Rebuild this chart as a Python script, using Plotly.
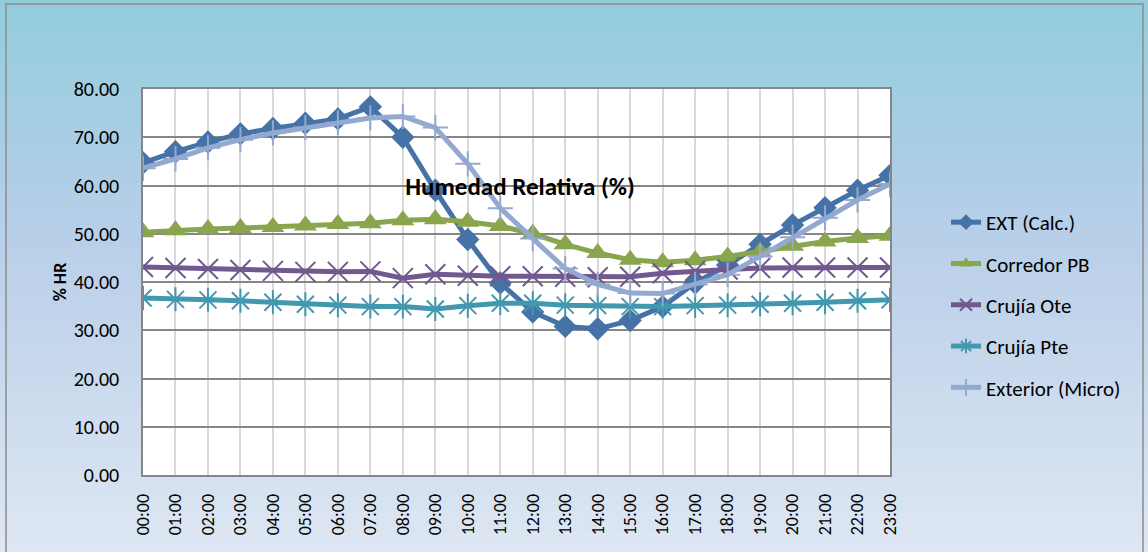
import plotly.graph_objects as go

hours = ["00:00","01:00","02:00","03:00","04:00","05:00","06:00","07:00","08:00","09:00","10:00","11:00",
         "12:00","13:00","14:00","15:00","16:00","17:00","18:00","19:00","20:00","21:00","22:00","23:00"]

ext_calc = [64.7, 67.0, 69.0, 70.7, 71.8, 72.9, 73.8, 76.3, 70.0, 59.0, 48.8, 39.8,
            33.8, 30.8, 30.3, 32.0, 34.9, 39.8, 43.5, 47.8, 51.8, 55.4, 59.0, 62.1]
corredor_pb = [50.3, 50.7, 51.0, 51.2, 51.4, 51.7, 52.0, 52.2, 52.8, 53.0, 52.5, 51.6,
               50.0, 47.8, 46.0, 44.6, 44.1, 44.5, 45.3, 46.3, 47.5, 48.4, 49.1, 49.6]
crujia_ote = [43.1, 42.9, 42.7, 42.5, 42.3, 42.1, 42.1, 42.2, 40.8, 41.6, 41.3, 41.2,
              41.2, 41.1, 41.0, 41.1, 41.8, 42.3, 42.6, 42.9, 43.0, 43.0, 43.0, 43.0]
crujia_pte = [36.7, 36.4, 36.3, 36.1, 35.8, 35.4, 35.2, 34.9, 34.9, 34.4, 35.1, 35.6,
              35.6, 35.2, 35.1, 34.9, 34.9, 35.1, 35.2, 35.4, 35.6, 35.8, 36.1, 36.3]
exterior_micro = [63.6, 65.5, 67.8, 69.5, 70.9, 72.0, 73.0, 74.0, 74.3, 72.0, 64.5, 55.3,
                  49.0, 42.8, 39.5, 37.7, 37.6, 39.5, 41.5, 45.3, 49.3, 53.3, 57.0, 60.3]

series = [
    ("EXT (Calc.)", ext_calc, "#4572A7", "diamond", 18, 5),
    ("Corredor PB", corredor_pb, "#89A54E", "triangle-up", 20, 5),
    ("Crujía Ote", crujia_ote, "#71588F", "x-thin-open", 20, 5),
    ("Crujía Pte", crujia_pte, "#4198AF", "asterisk-open", 20, 5),
    ("Exterior (Micro)", exterior_micro, "#93A9CF", "cross-thin-open", 18, 5),
]

W, H = 1148, 552
L, R, T, B = 143, 890, 89, 475
pw, ph = R - L, B - T

def px(x):
    return (x - L) / pw

def py(y):
    return (B - y) / ph

fig = go.Figure()
xs = list(range(len(hours)))
for name, vals, color, sym, size, lw in series:
    thin = sym.endswith("-open")
    fig.add_trace(go.Scatter(
        x=xs, y=vals, name=name, mode="lines+markers",
        line=dict(color=color, width=lw),
        marker=dict(symbol=sym, size=size, color=color,
                    line=dict(color=color, width=2 if thin else 0)),
        legendgroup=name,
    ))

# gradient background stripes
def lerp(a, b, t):
    return tuple(int(round(a[i] + (b[i] - a[i]) * t)) for i in range(3))

stops = [(0.0, (146, 205, 221)), (0.45, (186, 207, 233)), (1.0, (222, 231, 243))]
shapes = []
n = 110
for i in range(n):
    y0 = i * H / n
    y1 = (i + 1) * H / n + 0.8
    t = (i + 0.5) / n
    for k in range(len(stops) - 1):
        if stops[k][0] <= t <= stops[k + 1][0]:
            tt = (t - stops[k][0]) / (stops[k + 1][0] - stops[k][0])
            c = lerp(stops[k][1], stops[k + 1][1], tt)
            break
    shapes.append(dict(type="rect", xref="paper", yref="paper", layer="below",
                       x0=px(0), x1=px(W), y0=py(y1), y1=py(y0),
                       fillcolor="rgb(%d,%d,%d)" % c, line=dict(width=0)))
# chart border
shapes.append(dict(type="rect", xref="paper", yref="paper", layer="below",
                   x0=px(6), x1=px(1143), y0=py(565), y1=py(4),
                   fillcolor="rgba(0,0,0,0)", line=dict(color="#8c8c8c", width=1.5)))
# plot area white
shapes.append(dict(type="rect", xref="paper", yref="paper", layer="below",
                   x0=0, x1=1, y0=0, y1=1, fillcolor="white", line=dict(width=0)))

font_family = "Carlito, Lato, 'Liberation Sans', sans-serif"

fig.update_layout(
    width=W, height=H,
    margin=dict(l=L, r=W - R, t=T, b=H - B),
    paper_bgcolor="rgba(0,0,0,0)",
    plot_bgcolor="rgba(0,0,0,0)",
    shapes=shapes,
    font=dict(family=font_family, color="black"),
    title=dict(text="<b>Humedad Relativa (%)</b>", x=520 / W, y=1 - 186 / H,
               xanchor="center", yanchor="middle",
               font=dict(size=25, family=font_family, color="black")),
    showlegend=True,
    legend=dict(x=px(946), y=py(202), xanchor="left", yanchor="top",
                bgcolor="rgba(0,0,0,0)", font=dict(size=21, family=font_family),
                tracegroupgap=11, itemsizing="constant"),
    xaxis=dict(range=[0, 23], tickmode="array", tickvals=xs, ticktext=hours,
               tickangle=-90, tickfont=dict(size=18), showgrid=True,
               gridcolor="#d9d9d9", gridwidth=1.5, showline=True, mirror=True,
               linecolor="#868686", linewidth=1.5, zeroline=False, ticks="",
               ticklabelstandoff=10),
    yaxis=dict(range=[0, 80], dtick=10, tickformat=".2f", tickfont=dict(size=20),
               showgrid=True, gridcolor="#868686", gridwidth=1.5, showline=True,
               mirror=True, linecolor="#868686", linewidth=1.5, zeroline=False,
               ticks="", ticklabelstandoff=18,
               title=dict(text="<b>% HR</b>", font=dict(size=18), standoff=2)),
)

fig.write_html("out.html", config={"displayModeBar": False},
               post_script="document.body.style.margin='0';document.body.style.overflow='hidden';")
